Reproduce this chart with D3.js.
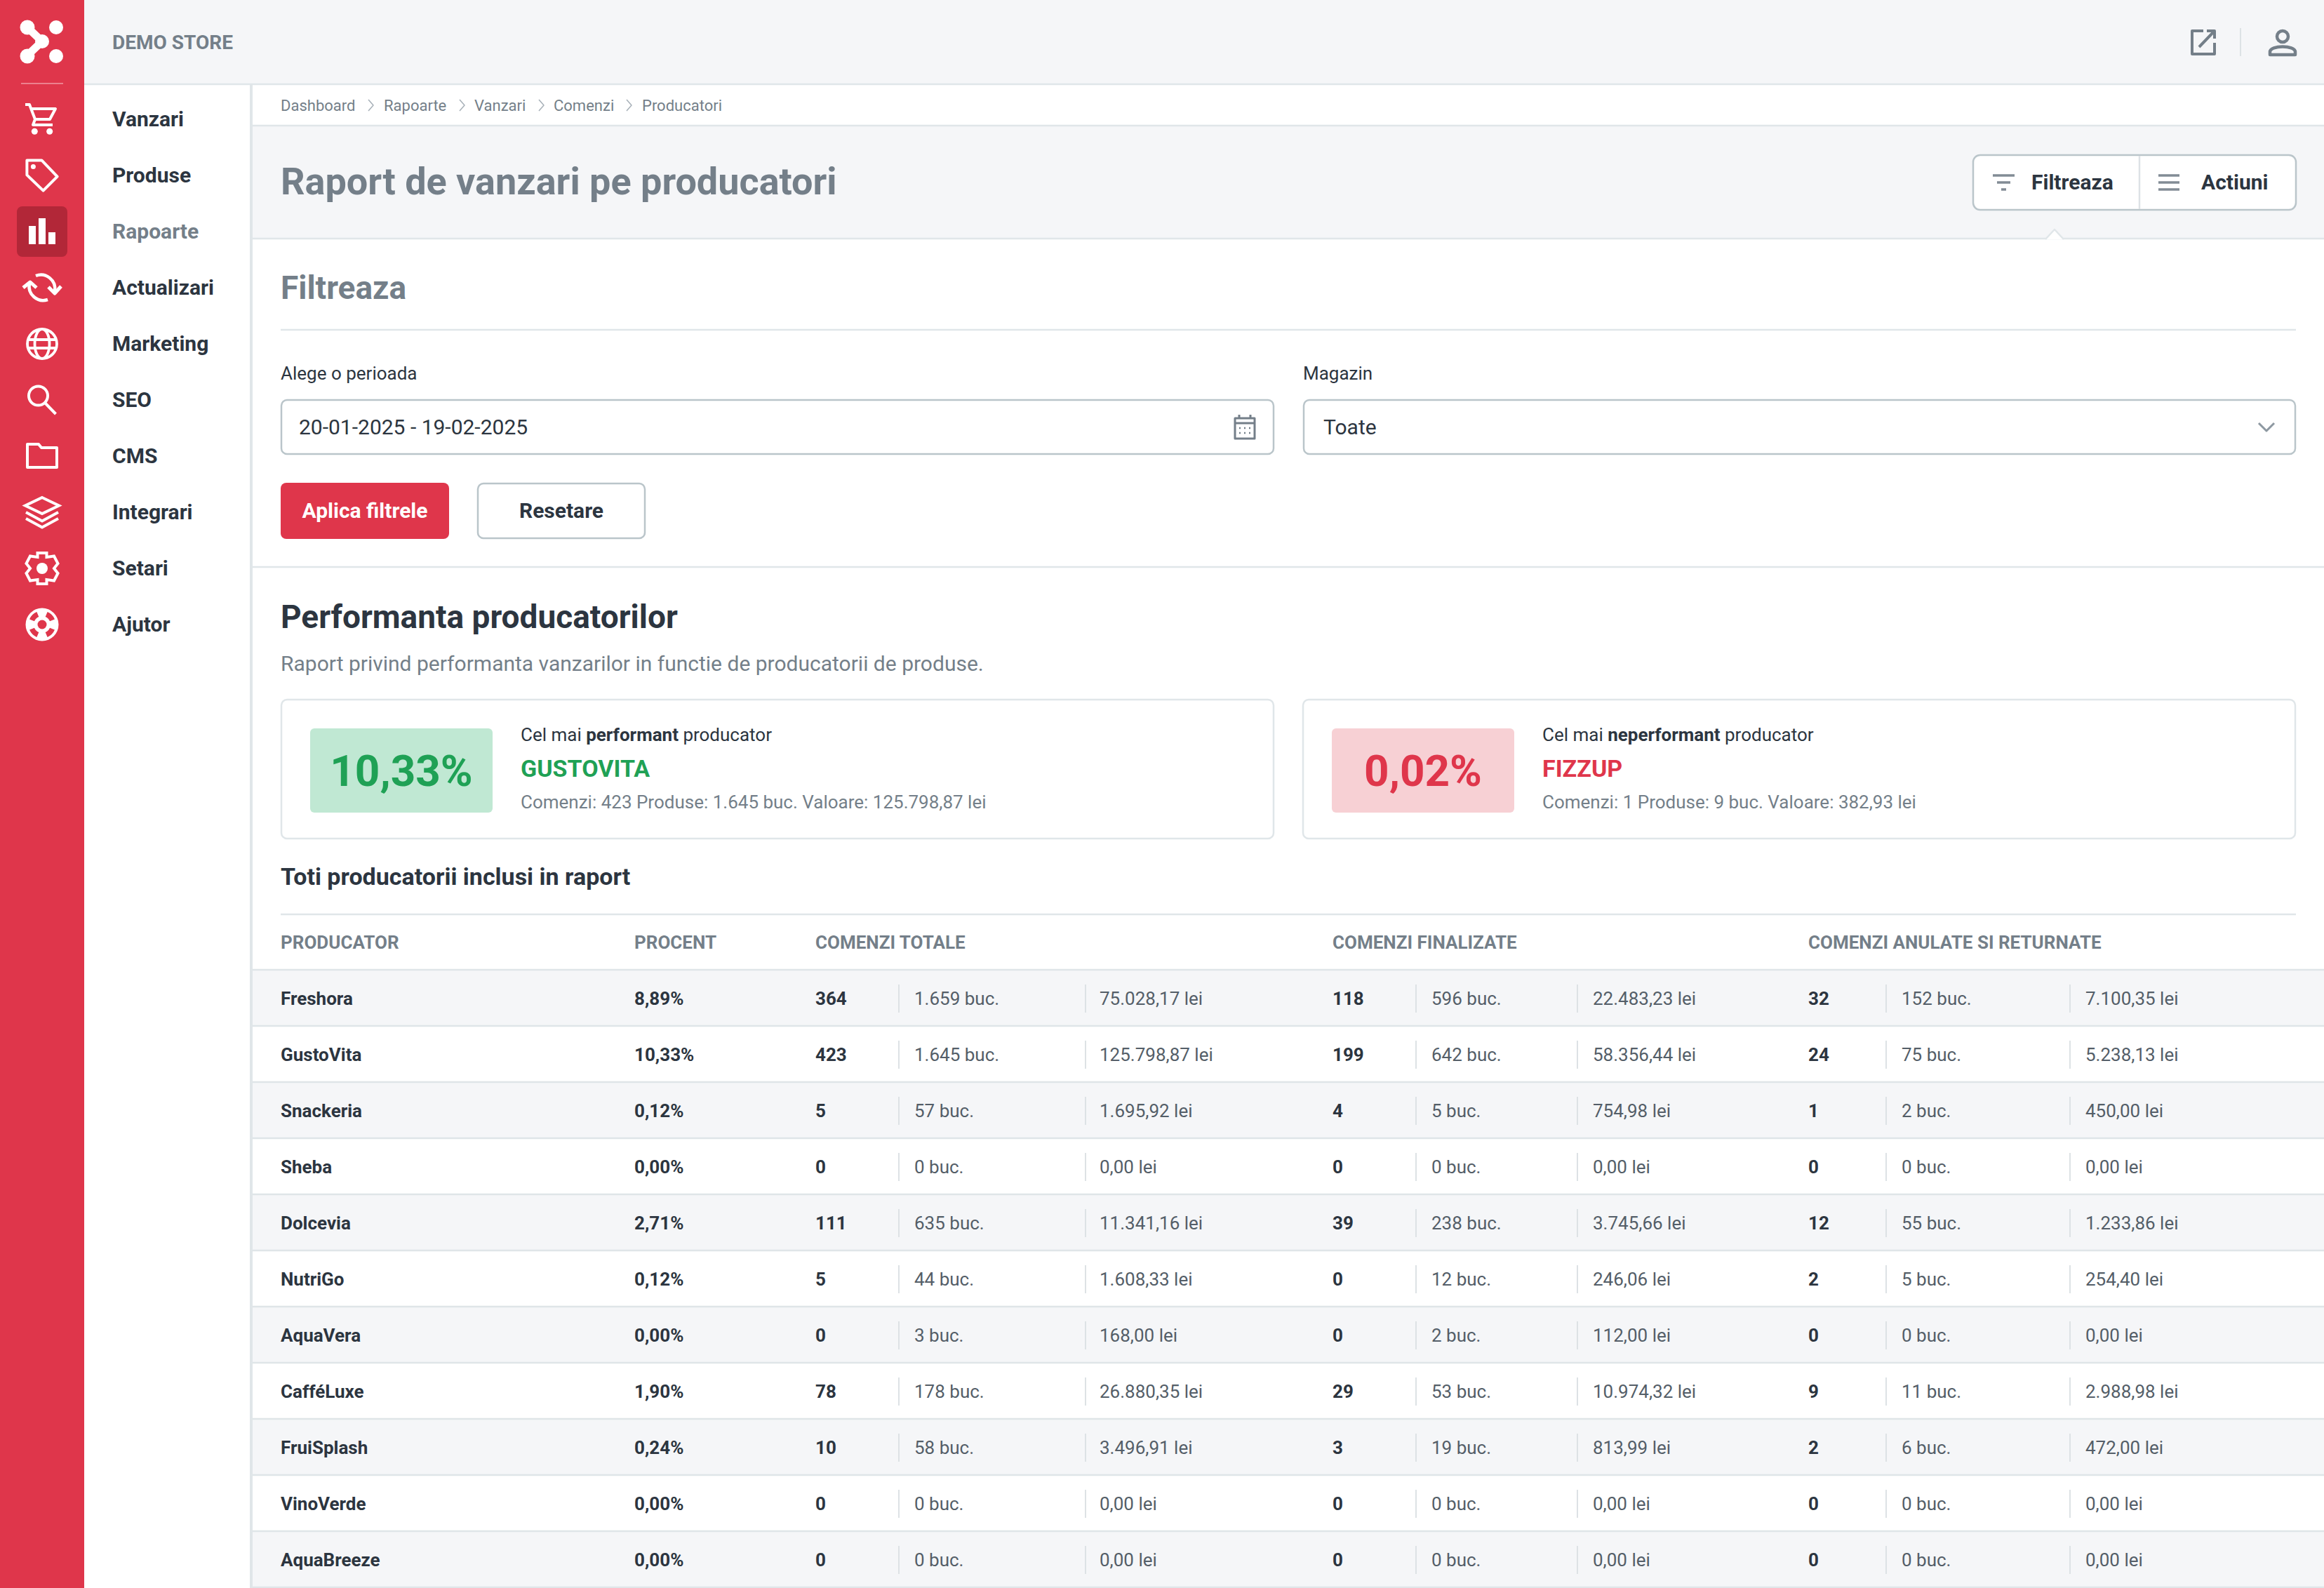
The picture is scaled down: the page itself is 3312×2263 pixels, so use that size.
<!DOCTYPE html>
<html>
<head>
<meta charset="utf-8">
<title>Raport de vanzari pe producatori</title>
<script src="https://cdn.jsdelivr.net/npm/d3@7"></script>
<style>
	html, body { margin: 0; padding: 0; background: #fff; overflow: hidden; }
	svg { display: block; }
	text { font-family: Roboto, sans-serif; }
</style>
</head>
<body>
<div id="page"></div>
<script>
// table data, one array per column
const producers = ["Freshora", "GustoVita", "Snackeria", "Sheba", "Dolcevia", "NutriGo", "AquaVera", "CafféLuxe", "FruiSplash", "VinoVerde", "AquaBreeze"];
const percents = ["8,89%", "10,33%", "0,12%", "0,00%", "2,71%", "0,12%", "0,00%", "1,90%", "0,24%", "0,00%", "0,00%"];
const totalOrders = [364, 423, 5, 0, 111, 5, 0, 78, 10, 0, 0];
const totalUnits = ["1.659", "1.645", "57", "0", "635", "44", "3", "178", "58", "0", "0"];
const totalValues = ["75.028,17", "125.798,87", "1.695,92", "0,00", "11.341,16", "1.608,33", "168,00", "26.880,35", "3.496,91", "0,00", "0,00"];
const doneOrders = [118, 199, 4, 0, 39, 0, 0, 29, 3, 0, 0];
const doneUnits = ["596", "642", "5", "0", "238", "12", "2", "53", "19", "0", "0"];
const doneValues = ["22.483,23", "58.356,44", "754,98", "0,00", "3.745,66", "246,06", "112,00", "10.974,32", "813,99", "0,00", "0,00"];
const cancelOrders = [32, 24, 1, 0, 12, 2, 0, 9, 2, 0, 0];
const cancelUnits = ["152", "75", "2", "0", "55", "5", "0", "11", "6", "0", "0"];
const cancelValues = ["7.100,35", "5.238,13", "450,00", "0,00", "1.233,86", "254,40", "0,00", "2.988,98", "472,00", "0,00", "0,00"];

const navItems = ["Vanzari", "Produse", "Rapoarte", "Actualizari", "Marketing", "SEO", "CMS", "Integrari", "Setari", "Ajutor"];
const crumbs = ["Dashboard", "Rapoarte", "Vanzari", "Comenzi", "Producatori"];
const headers = ["PRODUCATOR", "PROCENT", "COMENZI TOTALE", "COMENZI FINALIZATE", "COMENZI ANULATE SI RETURNATE"];

const RED = "#df364b", DARK = "#2c3540", GREY = "#747f89", LINE = "#e0e6e9", BAND = "#f5f6f8", FIELD = "#bac5ca";

const svg = d3.select("#page").append("svg").attr("width", 3312).attr("height", 2263);

//small helpers so the page below stays readable
function rect(x, y, w, h, fill, stroke, r) {
	return svg.append("rect").attr("x", x).attr("y", y).attr("width", w).attr("height", h)
		.attr("fill", fill).attr("stroke", stroke || "none").attr("stroke-width", stroke ? 2.5 : 0).attr("rx", r || 0);
}
function line(x1, y1, x2, y2, color, w) {
	return svg.append("line").attr("x1", x1).attr("y1", y1).attr("x2", x2).attr("y2", y2)
		.attr("stroke", color || LINE).attr("stroke-width", w || 2.5);
}
function label(x, y, str, size, weight, color) {
	return svg.append("text").attr("x", x).attr("y", y).attr("dy", "0.36em")
		.attr("font-size", size).attr("font-weight", weight).attr("fill", color).text(str);
}
//icon paths are drawn around 0,0
function icon(x, y, d, color, w, fill) {
	return svg.append("path").attr("transform", `translate(${x},${y})`).attr("d", d)
		.attr("fill", fill || "none").attr("stroke", color).attr("stroke-width", w || 4)
		.attr("stroke-linejoin", "round").attr("stroke-linecap", "butt");
}
function dot(x, y, r, fill) {
	return svg.append("circle").attr("cx", x).attr("cy", y).attr("r", r).attr("fill", fill);
}

//page backgrounds
rect(120, 0, 3192, 120, BAND);
line(120, 120, 3312, 120);
rect(360, 180, 2952, 160, BAND);
line(360, 179, 3312, 179);
line(360, 340, 3312, 340);
line(360, 808, 3312, 808);
line(358, 120, 358, 2263, LINE, 4);

//left red rail
rect(0, 0, 120, 2263, RED);
icon(0, 0, "M39,39 L60,59 L39,79", "#fff", 11);
dot(39, 39, 10.5, "#fff");
dot(80, 39, 10, "#fff");
dot(39, 80, 10.5, "#fff");
dot(80, 80, 10, "#fff");
dot(60, 59, 10, "#fff");
line(30, 119, 90, 119, "#f19aa4", 1.5);

const railY = d3.scaleLinear().domain([0, 9]).range([170, 890]);
rect(24, 294, 72, 72, "#b22738", null, 8);
//cart
icon(60, railY(0), "M-24,-21 L-18,-21 L-10,0 L11,0 L19,-15 L-16,-15 M-10,0 L-13,8 L15,8", "#fff", 4);
dot(49.3, railY(0) + 17.3, 4.5, "#fff");
dot(70.7, railY(0) + 17.3, 4.5, "#fff");
//tag
icon(60, railY(1), "M-21.6,-21.6 L-0.6,-21.6 L21.6,1.6 L1.6,21.6 L-21.6,-0.6 Z", "#fff");
dot(47.4, railY(1) - 12.6, 3.5, "#fff");
//bars
rect(41, 322, 10, 26, "#fff");
rect(55, 311, 10, 37, "#fff");
rect(69, 331, 10, 17, "#fff");
//sync
icon(60, railY(3), "M-9,-17 A20,20 0 0 1 18,5 M8,17 A20,20 0 0 1 -18,-6", "#fff", 4.5);
icon(60, railY(3), "M9,-1 L18,8 L27,-2 M-27,0 L-17,-8 L-8,0", "#fff", 5);
//globe
icon(60, railY(4), "M-21,0 A21,21 0 1 0 21,0 A21,21 0 1 0 -21,0 M-20,-6 L20,-6 M-20,6 L20,6 M0,-21 A10.5,21 0 0 0 0,21 A10.5,21 0 0 0 0,-21", "#fff", 3.8);
//search
icon(60, railY(5), "M-19,-6 A13.5,13.5 0 1 0 8,-6 A13.5,13.5 0 1 0 -19,-6 M4,4 L19.5,20", "#fff");
//folder
icon(60, railY(6), "M-21,-17 L-5,-17 L-1,-12 L21,-12 L21,16 L-21,16 Z", "#fff");
//layers
icon(60, railY(7), "M0,-21 L24,-9.5 L0,2 L-24,-9.5 Z M-23,0 L0,12.5 L23,0 M-23,9 L0,21.5 L23,9", "#fff", 4).attr("stroke-linejoin", "miter");
//gear
icon(60, railY(8), "M-6.5,-22 L6.5,-22 L6.5,-16 L17,-17.5 L22.5,-7 L17,0 L22.5,7 L17,17.5 L6.5,16 L6.5,22 L-6.5,22 L-6.5,16 L-17,17.5 L-22.5,7 L-17,0 L-22.5,-7 L-17,-17.5 L-6.5,-16 Z", "#fff", 4).attr("stroke-linejoin", "miter");
dot(60, railY(8), 8, "#fff");
//lifebuoy
dot(60, railY(9), 23.5, "#fff");
dot(60, railY(9), 6.5, RED);
const buoyWindow = d3.arc().innerRadius(12).outerRadius(19.5);
[45, 135, 225, 315].forEach(a => {
	svg.append("path").attr("transform", `translate(60,${railY(9)})`).attr("fill", RED)
		.attr("d", buoyWindow({ startAngle: (a - 22) * Math.PI / 180, endAngle: (a + 22) * Math.PI / 180 }));
});

//second menu
navItems.forEach((item, i) => {
	label(160, railY(i) - 1, item, 30, 700, item == "Rapoarte" ? GREY : DARK);
});

//top bar
label(160, 60, "DEMO STORE", 28, 700, GREY);
icon(0, 0, "M3140,44 L3124,44 L3124,77 L3156,77 L3156,61 M3145,44 L3156,44 L3156,55 M3156,44 L3134,67", GREY, 4);
line(3193, 40, 3193, 80, "#dde2e5", 2);
icon(0, 0, "M3245,52 A8,8 0 1 0 3261,52 A8,8 0 1 0 3245,52 M3235,78 L3235,74 C3235,64 3271,64 3271,74 L3271,78 Z", GREY, 4.5);

//breadcrumb
const crumbX = d3.scaleOrdinal().domain(crumbs).range([400, 547, 676, 789, 915]);
const chevronX = [528, 658, 771, 896];
crumbs.forEach(c => label(crumbX(c), 150, c, 22, 400, GREY));
chevronX.forEach(x => icon(x, 150, "M-3,-8 L4,0 L-3,8", "#a7b0b8", 1.5));

//title band
label(400, 258, "Raport de vanzari pe producatori", 54, 700, GREY);
rect(2812, 221, 460, 78, "#fff", FIELD, 10);
line(3049, 222, 3049, 298, "#dde2e5", 2.5);
icon(0, 0, "M2840,250 L2871,250 M2846,260 L2865,260 M2852,270 L2859,270", "#828c95", 3.5);
icon(0, 0, "M3076,250 L3106,250 M3076,260 L3106,260 M3076,270 L3106,270", "#828c95", 3.5);
label(2895, 259, "Filtreaza", 30, 700, DARK);
label(3137, 259, "Actiuni", 30, 700, DARK);
icon(2928, 341, "M-13,0 L0,-14 L13,0", LINE, 2.5, "#fff");

//filter block
label(400, 409, "Filtreaza", 46, 700, GREY);
line(400, 470, 3272, 470);
label(400, 532, "Alege o perioada", 26, 400, DARK);
label(1857, 532, "Magazin", 26, 400, DARK);
rect(401, 570, 1414, 77, "#fff", FIELD, 8);
rect(1858, 570, 1413, 77, "#fff", FIELD, 8);
label(426, 608, "20-01-2025 - 19-02-2025", 30, 400, DARK);
label(1886, 608, "Toate", 30, 400, DARK);
icon(1774, 608, "M-14,-12 L14,-12 L14,17 L-14,17 Z M-14,-5 L14,-5 M-8,-17 L-8,-12 M8,-17 L8,-12", GREY, 3);
icon(1774, 608, "M-8,2 L-6,2 M-1,2 L1,2 M6,2 L8,2 M-8,9 L-6,9 M-1,9 L1,9 M6,9 L8,9", GREY, 2.5);
icon(3230, 608, "M-11,-5 L0,6 L11,-5", "#8d98a1", 3);
rect(400, 688, 240, 80, RED, null, 8);
label(520, 727, "Aplica filtrele", 30, 700, "#fff").attr("text-anchor", "middle");
rect(681, 689, 238, 78, "#fff", FIELD, 8);
label(800, 727, "Resetare", 30, 700, DARK).attr("text-anchor", "middle");

//performance block
label(400, 878, "Performanta producatorilor", 46, 700, DARK);
label(400, 945, "Raport privind performanta vanzarilor in functie de producatorii de produse.", 30, 400, GREY);

function card(x, w, pct, color, bg, word, name, info) {
	rect(x + 1, 997, w - 2, 198, "#fff", LINE, 8);
	rect(x + 42, 1038, 260, 120, bg, null, 6);
	label(x + 172, 1098, pct, 62, 700, color).attr("text-anchor", "middle");
	const t = label(x + 342, 1047, "Cel mai ", 26, 400, DARK);
	t.append("tspan").attr("font-weight", 700).text(word);
	t.append("tspan").text(" producator");
	label(x + 342, 1095, name, 34, 700, color);
	label(x + 342, 1143, info, 26, 400, GREY);
}
card(400, 1416, "10,33%", "#1fa155", "#c0e8d3", "performant", "GUSTOVITA", "Comenzi: 423 Produse: 1.645 buc. Valoare: 125.798,87 lei");
card(1856, 1416, "0,02%", RED, "#f7d0d4", "neperformant", "FIZZUP", "Comenzi: 1 Produse: 9 buc. Valoare: 382,93 lei");

//table
label(400, 1249, "Toti producatorii inclusi in raport", 34, 700, DARK);
line(400, 1303, 3272, 1303);
const headerX = d3.scaleOrdinal().domain(headers).range([400, 904, 1162, 1899, 2577]);
headers.forEach(h => label(headerX(h), 1343, h, 26, 700, GREY));

const rowY = d3.scaleBand().domain(producers).range([1382, 2262]);

const columns = [
	{ x: 400, values: producers, bold: true },
	{ x: 904, values: percents, bold: true },
	{ x: 1162, values: totalOrders, bold: true },
	{ x: 1303, values: totalUnits, unit: " buc.", rule: 1281 },
	{ x: 1567, values: totalValues, unit: " lei", rule: 1547 },
	{ x: 1899, values: doneOrders, bold: true },
	{ x: 2040, values: doneUnits, unit: " buc.", rule: 2018 },
	{ x: 2270, values: doneValues, unit: " lei", rule: 2248 },
	{ x: 2577, values: cancelOrders, bold: true },
	{ x: 2710, values: cancelUnits, unit: " buc.", rule: 2688 },
	{ x: 2972, values: cancelValues, unit: " lei", rule: 2950 }
];

const rows = svg.append("g").selectAll("g").data(producers).join("g")
	.attr("transform", d => `translate(0,${rowY(d)})`);
rows.append("rect").attr("x", 360).attr("width", 2952).attr("height", rowY.bandwidth())
	.attr("fill", (d, i) => i % 2 == 0 ? BAND : "#fff");
rows.append("line").attr("x1", 360).attr("x2", 3312).attr("stroke", "#dfe5e8").attr("stroke-width", 2.5);

columns.forEach(col => {
	if (col.rule) {
		rows.append("line").attr("x1", col.rule).attr("x2", col.rule)
			.attr("y1", 21).attr("y2", 61).attr("stroke", "#dde2e5").attr("stroke-width", 2);
	}
	rows.append("text").attr("x", col.x).attr("y", rowY.bandwidth() / 2 + 1).attr("dy", "0.36em")
		.attr("font-size", 26).attr("font-weight", col.bold ? 700 : 400)
		.attr("fill", col.bold ? DARK : "#545e68")
		.text((d, i) => col.values[i] + (col.unit || ""));
});
line(360, 2262, 3312, 2262);
</script>
</body>
</html>
